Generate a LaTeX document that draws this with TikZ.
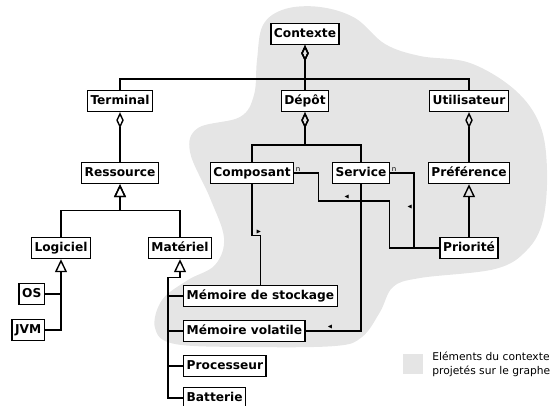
\documentclass[tikz,border=0pt]{standalone}
\usepackage{fontspec}
\setmainfont{DejaVu Sans}
\usepackage{amssymb}
\usetikzlibrary{arrows.meta,positioning}
\definecolor{ctxgray}{RGB}{229,229,229}
\tikzset{
  class/.style={draw,rectangle,fill=white,line width=1.4pt,
    font=\fontsize{12.2}{14}\selectfont\bfseries,
    inner xsep=3pt,inner ysep=0pt,minimum height=21pt,
    text height=9pt,text depth=2.5pt},
  link/.style={line width=1.4pt},
  aggregation/.style={link,{Diamond[open,length=16pt,width=7.5pt]}-},
  generalization/.style={link,{Triangle[open,length=13pt,width=12pt]}-},
  mult/.style={font=\fontsize{7}{8}\selectfont,inner sep=1pt},
  direction/.style={font=\fontsize{6}{6}\selectfont,inner sep=1pt},
  legend/.style={font=\fontsize{10.7}{14}\selectfont,align=left,inner sep=0pt},
  uml/.style={x=1pt,y=-1pt,line join=miter}
}

\begin{document}
\begin{tikzpicture}[uml]
  \useasboundingbox (0,0) rectangle (551,406);
  % context region
  \fill[ctxgray] plot[smooth cycle,tension=0.6] coordinates {
    (257,60) (263,25) (285,9) (320,7) (355,18) (385,44) (420,56) (470,63)
    (515,90) (540,125) (547,170) (543,220) (527,250) (495,269) (420,278)
    (393,287) (380,312) (362,337) (335,346) (250,347) (175,344) (155,328)
    (162,300) (188,280) (215,265) (224,238) (210,198) (190,152) (198,128)
    (240,117) (254,95)};

  \node[class] (contexte) at (305,34) {Contexte};
  \node[class] (depot) [below of=contexte,node distance=67pt] {Dépôt};
  \node[class] (terminal) [left of=depot,node distance=185pt] {Terminal};
  \node[class] (utilisateur) [right of=depot,node distance=164pt] {Utilisateur};
  \node[class] (ressource) [below of=terminal,node distance=72pt] {Ressource};
  \node[class] (composant) [below of=depot,node distance=72pt,xshift=-53pt] {Composant};
  \node[class] (service) [below of=depot,node distance=72pt,xshift=56pt] {Service};
  \node[class] (preference) [below of=utilisateur,node distance=72pt] {Préférence};
  \node[class] (priorite) [below of=preference,node distance=75pt] {Priorité};
  \node[class] (logiciel) [below of=ressource,node distance=75pt,xshift=-59pt] {Logiciel};
  \node[class] (materiel) [below of=ressource,node distance=75pt,xshift=60pt] {Matériel};
  \node[class,anchor=east] (os) at (45,294) {OS};
  \node[class,anchor=east] (jvm) at (45,330) {JVM};
  \node[class,anchor=west] (stockage) at (183,296) {Mémoire de stockage};
  \node[class,anchor=west] (volatile) at (183,331) {Mémoire volatile};
  \node[class,anchor=west] (processeur) at (183,366) {Processeur};
  \node[class,anchor=west] (batterie) at (183,398) {Batterie};

  % aggregations
  \draw[aggregation] (contexte.south) -- (depot.north);
  \draw[aggregation] (contexte.south) -- ++(0,34) -| (terminal.north);
  \draw[aggregation] (contexte.south) -- ++(0,34) -| (utilisateur.north);
  \draw[aggregation] (terminal.south) -- (ressource.north);
  \draw[aggregation] (depot.south) -- ++(0,33) -| (composant.north);
  \draw[aggregation] (depot.south) -- ++(0,33) -| (service.north);
  \draw[aggregation] (utilisateur.south) -- (preference.north);

  % generalizations
  \draw[generalization] (ressource.south) -- ++(0,26) -| (logiciel.north);
  \draw[generalization] (ressource.south) -- ++(0,26) -| (materiel.north);
  \draw[generalization] (preference.south) -- (priorite.north);
  \draw[generalization] (logiciel.south) |- (jvm.east);
  \draw[link] (os.east) -- (os.east -| logiciel.south);
  \draw[generalization] (materiel.south) -- ++(0,18) -- ++(-12,0) |- (batterie.west);
  \draw[link] (stockage.west) -- ++(-15,0);
  \draw[link] (volatile.west) -- ++(-15,0);
  \draw[link] (processeur.west) -- ++(-15,0);

  % associations
  \draw[link] (composant.east) -- ++(24,0) node[pos=0,mult,anchor=south west] {n}
    |- ++(71,28) node[pos=0.7,direction,above] {$\blacktriangleleft$}
    |- (priorite.west);
  \draw[link] (service.east) -- ++(24,0) node[pos=0,mult,anchor=south west] {n}
    |- node[pos=0.23,direction,left] {$\blacktriangleleft$} (priorite.west);
  \draw[link] (composant.south) -- ++(0,51)
    -| node[pos=0.4,direction,above] {$\blacktriangleright$} (stockage.north);
  \draw[link] (service.south)
    |- node[pos=0.78,direction,above] {$\blacktriangleleft$} (volatile.east);

  % legend
  \node[fill=ctxgray,minimum size=20pt,inner sep=0pt] (swatch) at (413,364) {};
  \node[legend,anchor=west] (legendtext) [right=9pt of swatch.east] {Eléments du contexte\\projetés sur le graphe};
\end{tikzpicture}
\end{document}
